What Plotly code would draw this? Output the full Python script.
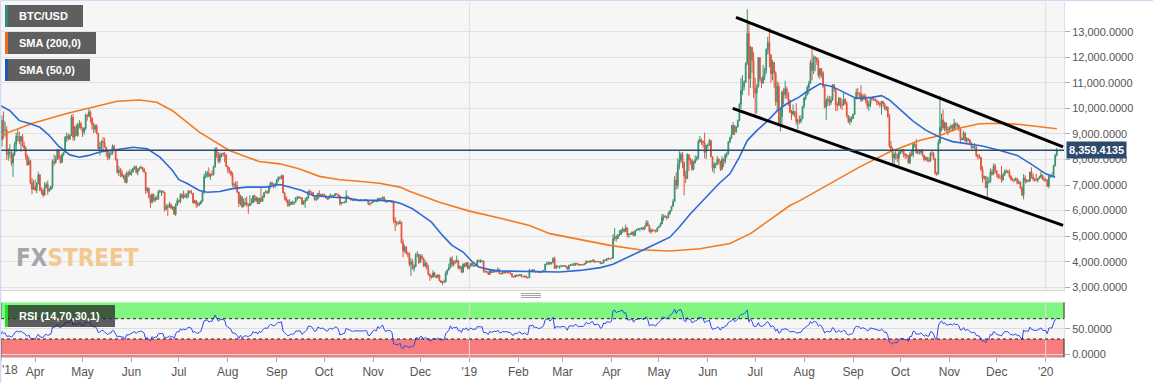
import numpy as np
import pandas as pd
import plotly.graph_objects as go

# ---------------- DATA ----------------
# closes before the first drawn candle (only used to warm up the RSI)
warmup_start = '2018-02-18'
warmup_closes = [10400, 11150, 11200, 10440, 9830, 10160, 9670, 9590, 10320, 10570,
                 10330, 10920, 11020, 11440, 11500, 11430, 10720, 9910]

month_starts = ['2018-03-08', '2018-04-01', '2018-05-01', '2018-06-01', '2018-07-01', '2018-08-01',
                '2018-09-01', '2018-10-01', '2018-11-01', '2018-12-01', '2019-01-01', '2019-02-01',
                '2019-03-01', '2019-04-01', '2019-05-01', '2019-06-01', '2019-07-01', '2019-08-01',
                '2019-09-01', '2019-10-01', '2019-11-01', '2019-12-01', '2020-01-01']

close_by_month = [
    [9300, 9230, 8770, 9530, 9140, 9150, 8200, 8260, 8270, 7860, 8200, 8600, 8900, 8900, 8710, 8900, 8550, 8450, 8150, 7790, 7950, 7100, 6840, 6930],
    [6800, 7050, 7400, 6800, 6780, 6610, 6900, 7020, 6770, 6830, 6940, 7920, 7880, 8000, 8360, 8060, 7890, 8170, 8280, 8860, 8920, 8800, 8940, 9650, 8870, 9280, 8940, 9350, 9400, 9240],
    [9070, 9220, 9740, 9700, 9860, 9620, 9370, 9190, 9310, 9020, 8420, 8480, 8700, 8680, 8480, 8340, 8060, 8240, 8240, 8520, 8400, 7990, 7500, 7580, 7470, 7350, 7360, 7110, 7470, 7410, 7500],
    [7530, 7640, 7720, 7500, 7630, 7660, 7690, 7620, 7510, 6780, 6880, 6550, 6310, 6640, 6400, 6490, 6450, 6720, 6750, 6760, 6720, 6050, 6160, 6140, 6240, 6090, 6140, 5860, 6210, 6390],
    [6360, 6620, 6510, 6600, 6530, 6600, 6760, 6710, 6670, 6300, 6390, 6250, 6220, 6270, 6360, 6740, 7320, 7380, 7470, 7330, 7410, 7400, 7720, 8400, 8170, 7940, 8180, 8230, 8220, 8180, 7730],
    [7620, 7540, 7420, 7010, 7030, 6940, 6720, 6280, 6540, 6150, 6240, 6320, 6260, 6200, 6270, 6310, 6580, 6400, 6490, 6270, 6480, 6360, 6530, 6700, 6740, 6700, 6910, 7080, 7040, 6980, 7030],
    [7200, 7300, 7270, 7370, 6700, 6520, 6410, 6200, 6240, 6320, 6290, 6330, 6490, 6490, 6520, 6500, 6250, 6340, 6390, 6490, 6760, 6720, 6710, 6590, 6430, 6460, 6680, 6640, 6600, 6630],
    [6590, 6510, 6460, 6560, 6600, 6560, 6590, 6660, 6640, 6580, 6270, 6310, 6320, 6340, 6550, 6490, 6480, 6430, 6400, 6420, 6420, 6410, 6400, 6420, 6400, 6410, 6420, 6410, 6270, 6270, 6320],
    [6370, 6390, 6360, 6480, 6430, 6470, 6530, 6420, 6340, 6370, 6380, 6360, 6320, 5620, 5550, 5510, 5500, 5550, 4750, 4420, 4570, 4320, 4310, 3900, 4000, 3740, 3820, 4260, 4280, 3970],
    [4210, 4140, 3840, 3940, 3750, 3500, 3420, 3400, 3560, 3450, 3390, 3480, 3250, 3200, 3190, 3210, 3540, 3680, 3770, 4130, 3890, 4020, 3990, 4050, 3760, 3800, 3600, 3900, 3820, 3960, 3740],
    [3840, 3940, 3840, 3860, 3840, 4040, 4000, 4010, 4030, 3630, 3630, 3600, 3500, 3670, 3580, 3610, 3650, 3610, 3700, 3540, 3530, 3590, 3560, 3580, 3570, 3570, 3530, 3420, 3400, 3470, 3440],
    [3470, 3500, 3410, 3410, 3440, 3380, 3370, 3660, 3650, 3690, 3610, 3620, 3600, 3580, 3590, 3620, 3660, 3900, 3930, 3970, 3910, 3970, 4120, 3740, 3830, 3810, 3820, 3820],
    [3830, 3840, 3800, 3710, 3860, 3870, 3880, 3860, 3940, 3920, 3870, 3890, 3880, 3880, 3930, 4020, 3990, 3990, 4030, 4060, 3990, 4000, 4010, 4000, 3930, 3950, 4070, 4050, 4120, 4110, 4110],
    [4140, 4900, 4980, 4910, 5050, 5060, 5200, 5280, 5190, 5330, 5060, 5080, 5080, 5160, 5030, 5220, 5250, 5290, 5290, 5330, 5280, 5380, 5520, 5420, 5180, 5240, 5230, 5230, 5190, 5320],
    [5380, 5480, 5740, 5780, 5750, 5720, 5870, 5990, 6170, 6350, 7200, 6990, 7800, 7980, 8200, 7880, 7350, 7260, 8190, 7980, 7950, 7620, 7880, 7990, 8060, 8690, 8770, 8720, 8660, 8270, 8550],
    [8550, 8740, 8110, 7680, 7800, 7800, 8000, 7930, 7630, 8010, 7920, 8170, 8230, 8690, 8850, 8980, 9330, 9080, 9270, 9530, 10160, 10700, 10850, 11010, 11760, 12930, 11160, 12390, 11880, 10770],
    [10590, 10840, 11980, 11150, 10990, 11250, 11480, 12300, 12580, 12100, 11350, 11800, 11390, 10260, 10860, 9430, 9680, 10640, 10530, 10770, 10590, 10320, 9850, 9770, 9880, 9850, 9480, 9530, 9500, 9590, 10080],
    [10400, 10530, 10820, 10980, 11790, 11480, 11960, 11980, 11860, 11300, 11550, 11390, 10870, 10050, 10300, 10360, 10220, 10320, 10920, 10760, 10130, 10130, 10400, 10140, 10130, 10370, 10190, 9720, 9490, 9600, 9600],
    [9760, 10390, 10620, 10580, 10580, 10320, 10490, 10400, 10310, 10100, 10160, 10420, 10360, 10360, 10310, 10260, 10190, 10160, 10270, 10180, 9990, 10030, 9690, 8530, 8430, 8060, 8200, 8200, 8050, 8300],
    [8320, 8380, 8230, 8150, 8150, 7870, 8210, 8180, 8590, 8590, 8270, 8300, 8280, 8370, 8160, 8000, 8080, 7960, 7950, 8230, 8220, 8030, 7470, 7440, 8660, 9260, 9550, 9230, 9430, 9170, 9150],
    [9250, 9310, 9200, 9410, 9320, 9340, 9200, 8770, 8810, 9040, 8720, 8810, 8760, 8640, 8470, 8500, 8500, 8170, 8120, 8080, 7620, 7280, 7330, 6900, 7130, 7150, 7520, 7430, 7750, 7560],
    [7420, 7300, 7300, 7200, 7390, 7540, 7500, 7520, 7340, 7220, 7200, 7190, 7250, 7070, 7110, 6880, 6610, 7280, 7150, 7190, 7150, 7510, 7320, 7250, 7200, 7200, 7250, 7300, 7390, 7220, 7190],
    [7200, 6960, 7340, 7350, 7350, 7760, 8160, 8359.4135],
]

high_by_month = [
    [10100, 9400, 9480, 9730, 9880, 9480, 9300, 8430, 8600, 8340, 8280, 8700, 9050, 9180, 9080, 8920, 9000, 8700, 8520, 8200, 8100, 7990, 7280, 7200],
    [7220, 7120, 7520, 7420, 6910, 6860, 7100, 7110, 7180, 6890, 6980, 8000, 8200, 8150, 8420, 8400, 8160, 8250, 8300, 8920, 9050, 9020, 8990, 9750, 9780, 9290, 9380, 9440, 9540, 9480],
    [9260, 9260, 9800, 9760, 9990, 9920, 9650, 9440, 9380, 9380, 9040, 8680, 8750, 8880, 8850, 8500, 8400, 8280, 8390, 8590, 8570, 8410, 8050, 7750, 7670, 7600, 7400, 7440, 7540, 7560, 7620],
    [7600, 7690, 7760, 7760, 7650, 7710, 7760, 7700, 7680, 7510, 6910, 6890, 6620, 6680, 6660, 6550, 6590, 6800, 6830, 6790, 6790, 6730, 6250, 6250, 6340, 6290, 6190, 6160, 6290, 6500],
    [6440, 6680, 6680, 6780, 6690, 6680, 6800, 6790, 6800, 6690, 6420, 6410, 6350, 6330, 6400, 6770, 7450, 7550, 7560, 7690, 7460, 7570, 7760, 8480, 8490, 8300, 8270, 8250, 8280, 8290, 8200],
    [7760, 7700, 7560, 7500, 7090, 7160, 7150, 6740, 6630, 6570, 6470, 6500, 6550, 6270, 6600, 6480, 6600, 6620, 6560, 6530, 6500, 6880, 6580, 6720, 6810, 6780, 6920, 7130, 7140, 7060, 7100],
    [7240, 7340, 7340, 7410, 7400, 6730, 6550, 6430, 6450, 6370, 6390, 6350, 6530, 6580, 6570, 6540, 6530, 6400, 6500, 6540, 6780, 6830, 6750, 6730, 6600, 6560, 6690, 6790, 6650, 6660],
    [6670, 6610, 6530, 6590, 6670, 6600, 6620, 6690, 6670, 6640, 6590, 6350, 6340, 6370, 6800, 6600, 6510, 6500, 6440, 6440, 6480, 6430, 6420, 6450, 6420, 6440, 6440, 6430, 6420, 6290, 6340],
    [6400, 6420, 6400, 6500, 6490, 6490, 6560, 6540, 6430, 6400, 6410, 6400, 6380, 6350, 5750, 5600, 5570, 5640, 5560, 4880, 4660, 4610, 4400, 4370, 4140, 4100, 3900, 4340, 4410, 4320],
    [4290, 4300, 4160, 4080, 3980, 3880, 3550, 3480, 3660, 3600, 3480, 3520, 3490, 3280, 3250, 3300, 3630, 3700, 3930, 4180, 4230, 4040, 4080, 4240, 4050, 3860, 3830, 3940, 3950, 3980, 3990],
    [3850, 3970, 3950, 3880, 3900, 4090, 4090, 4100, 4060, 4040, 3680, 3640, 3610, 3700, 3690, 3670, 3670, 3660, 3780, 3730, 3570, 3620, 3630, 3600, 3600, 3650, 3580, 3540, 3440, 3490, 3510],
    [3490, 3520, 3500, 3440, 3460, 3450, 3400, 3730, 3680, 3700, 3690, 3640, 3640, 3610, 3640, 3650, 3680, 3920, 4000, 4000, 4000, 3990, 4180, 4200, 3880, 3850, 3840, 3880],
    [3870, 3860, 3850, 3820, 3880, 3910, 3940, 3940, 3960, 3950, 3920, 3910, 3910, 3920, 3950, 4050, 4030, 4050, 4050, 4080, 4090, 4030, 4030, 4030, 4010, 3970, 4090, 4080, 4130, 4170, 4130],
    [4160, 5080, 5320, 5040, 5080, 5240, 5270, 5350, 5290, 5450, 5340, 5120, 5130, 5190, 5180, 5240, 5290, 5320, 5320, 5350, 5340, 5420, 5620, 5620, 5440, 5310, 5260, 5260, 5240, 5340],
    [5410, 5540, 5880, 5850, 5830, 5800, 5960, 6020, 6180, 6450, 7350, 7500, 8050, 8320, 8280, 8290, 7920, 7560, 8250, 8150, 8070, 8030, 7950, 8160, 8140, 8780, 8920, 8820, 8720, 9050, 8580],
    [8620, 8810, 8750, 8120, 7900, 7880, 8140, 8060, 7950, 8130, 8050, 8230, 8300, 8700, 8880, 9350, 9460, 9350, 9300, 9560, 10200, 11200, 11300, 11100, 11800, 13880, 13300, 12450, 12400, 12200],
    [11200, 10950, 12000, 12000, 11200, 11700, 11600, 12350, 12800, 13150, 12100, 11900, 11800, 11450, 11050, 11000, 9990, 10700, 10780, 11080, 10850, 10650, 10330, 9940, 10150, 9890, 10200, 9600, 9720, 9730, 10100],
    [10450, 10650, 10900, 11080, 11900, 12330, 12080, 12050, 12000, 11950, 11580, 11580, 11450, 10890, 10400, 10500, 10470, 10480, 10950, 10950, 10780, 10250, 10450, 10420, 10340, 10590, 10370, 10280, 9740, 9690, 9680],
    [9800, 10440, 10770, 10800, 10630, 10900, 10550, 10590, 10540, 10380, 10290, 10450, 10440, 10420, 10380, 10350, 10280, 10260, 10300, 10300, 10220, 10100, 10080, 9780, 8730, 8470, 8280, 8340, 8230, 8330],
    [8390, 8400, 8400, 8240, 8220, 8170, 8300, 8340, 8650, 8640, 8800, 8390, 8400, 8390, 8400, 8180, 8120, 8100, 8080, 8290, 8330, 8300, 8060, 7520, 8780, 10500, 9800, 9950, 9480, 9450, 9300],
    [9290, 9380, 9380, 9590, 9460, 9440, 9370, 9230, 8860, 9130, 9060, 8880, 8840, 8780, 8680, 8530, 8640, 8520, 8200, 8210, 8100, 7730, 7370, 7360, 7330, 7320, 7650, 7620, 7850, 7830],
    [7570, 7430, 7420, 7750, 7480, 7600, 7620, 7580, 7620, 7390, 7280, 7250, 7300, 7280, 7200, 7140, 6950, 7430, 7380, 7230, 7190, 7520, 7690, 7440, 7270, 7440, 7280, 7360, 7520, 7410, 7330],
    [7260, 7210, 7400, 7400, 7500, 7800, 8220, 8450],
]

low_by_month = [
    [9100, 8400, 8680, 8500, 8800, 8900, 7990, 7950, 8060, 7750, 7320, 8130, 8300, 8700, 8600, 8300, 8500, 8370, 8000, 7750, 7780, 7030, 6640, 6820],
    [6770, 6680, 7020, 6750, 6630, 6520, 6580, 6880, 6620, 6730, 6810, 6860, 7760, 7830, 8000, 8000, 7830, 7860, 8130, 8280, 8680, 8740, 8780, 8930, 8740, 8730, 8920, 8890, 9210, 9160],
    [8880, 8970, 9150, 9520, 9660, 9450, 9170, 9040, 9060, 8980, 8400, 8160, 8380, 8320, 8460, 8120, 7970, 8000, 8150, 8190, 8320, 7960, 7440, 7350, 7310, 7300, 7220, 7080, 7060, 7320, 7370],
    [7370, 7470, 7600, 7450, 7380, 7560, 7640, 7540, 7480, 6650, 6700, 6470, 6120, 6290, 6360, 6330, 6410, 6420, 6700, 6570, 6680, 5960, 6020, 5790, 6100, 6070, 6020, 5840, 5790, 6190],
    [6280, 6290, 6490, 6450, 6510, 6460, 6490, 6680, 6640, 6290, 6280, 6110, 6140, 6190, 6250, 6340, 6650, 7270, 7290, 7320, 7200, 7360, 7380, 7670, 8060, 7850, 7860, 8080, 8100, 7890, 7700],
    [7460, 7450, 7340, 6930, 6890, 6830, 6680, 6140, 6200, 6100, 6140, 6210, 6150, 5880, 6170, 6240, 6300, 6330, 6330, 6260, 6270, 6340, 6360, 6490, 6690, 6640, 6680, 6860, 6980, 6870, 6900],
    [7000, 7120, 7210, 7230, 6680, 6400, 6310, 6150, 6150, 6220, 6220, 6220, 6310, 6400, 6460, 6460, 6240, 6220, 6110, 6380, 6460, 6680, 6660, 6550, 6390, 6370, 6430, 6520, 6530, 6550],
    [6540, 6470, 6420, 6440, 6540, 6520, 6530, 6570, 6610, 6530, 6200, 6230, 6290, 6280, 6300, 6450, 6440, 6380, 6370, 6390, 6400, 6380, 6360, 6390, 6380, 6380, 6390, 6380, 6210, 6200, 6260],
    [6310, 6350, 6330, 6350, 6380, 6400, 6440, 6380, 6300, 6330, 6350, 6330, 6300, 5500, 5200, 5400, 5440, 5470, 4710, 4180, 4360, 4290, 4170, 3820, 3450, 3690, 3620, 3780, 4180, 3910],
    [3950, 4070, 3790, 3780, 3700, 3460, 3250, 3340, 3370, 3400, 3340, 3380, 3240, 3170, 3080, 3180, 3200, 3480, 3650, 3740, 3800, 3810, 3900, 3960, 3700, 3700, 3560, 3550, 3770, 3810, 3700],
    [3700, 3800, 3820, 3790, 3830, 3810, 3980, 3950, 3990, 3570, 3560, 3570, 3480, 3500, 3560, 3570, 3580, 3590, 3600, 3510, 3490, 3510, 3540, 3550, 3550, 3550, 3500, 3380, 3380, 3390, 3430],
    [3420, 3450, 3400, 3390, 3410, 3360, 3350, 3360, 3610, 3630, 3590, 3570, 3580, 3560, 3570, 3580, 3610, 3650, 3860, 3870, 3880, 3900, 3960, 3720, 3730, 3780, 3720, 3780],
    [3810, 3800, 3780, 3700, 3700, 3840, 3850, 3840, 3850, 3880, 3840, 3850, 3860, 3860, 3870, 3920, 3960, 3960, 3970, 4010, 3960, 3980, 3990, 3970, 3900, 3910, 3940, 4020, 4040, 4090, 4090],
    [4110, 4140, 4820, 4780, 4880, 4990, 5050, 5130, 5140, 5160, 4960, 4930, 5050, 5030, 4990, 5020, 5200, 5240, 5190, 5260, 5220, 5250, 5370, 5390, 5140, 5090, 5170, 5180, 5130, 5170],
    [5320, 5370, 5470, 5600, 5710, 5640, 5710, 5850, 5980, 6140, 6350, 6820, 6860, 7610, 7870, 7660, 6600, 7080, 7230, 7550, 7800, 7560, 7580, 7840, 7950, 8020, 8650, 8560, 8470, 8050, 8020],
    [8420, 8520, 8080, 7530, 7460, 7660, 7780, 7810, 7550, 7570, 7700, 7830, 8060, 8180, 8640, 8800, 8960, 8950, 9050, 9260, 9500, 9980, 10530, 10700, 11000, 11700, 10500, 10800, 11400, 10400],
    [9700, 9800, 10820, 11050, 10800, 10960, 11100, 11350, 12100, 11600, 11000, 11100, 10800, 10100, 9900, 9380, 9100, 9300, 10150, 10380, 10380, 10100, 9820, 9550, 9720, 9650, 9360, 9190, 9380, 9420, 9600],
    [10000, 10320, 10510, 10570, 10970, 11100, 11340, 11450, 11700, 11200, 11150, 11210, 10800, 10000, 9550, 10100, 10080, 10130, 10300, 10650, 9900, 9900, 10080, 10000, 9930, 10100, 10150, 9630, 9420, 9350, 9450],
    [9570, 9760, 10380, 10390, 10400, 10240, 10280, 10330, 10200, 9990, 9900, 10050, 10300, 10300, 10270, 10110, 10120, 10030, 9750, 10050, 9930, 9900, 9630, 8450, 8350, 7850, 7800, 8000, 7900, 7770],
    [8200, 8220, 8080, 8020, 8050, 7840, 7820, 8120, 8080, 8470, 8220, 8200, 8190, 8200, 8110, 7930, 7960, 7900, 7890, 7910, 8140, 7970, 7400, 7350, 7400, 8610, 9100, 9160, 9100, 9060, 8950],
    [9080, 9140, 9100, 9140, 9200, 9230, 9110, 8690, 8750, 8760, 8700, 8600, 8700, 8570, 8410, 8430, 8400, 8090, 8000, 8030, 7540, 7090, 7200, 6870, 6530, 7050, 7080, 7360, 7390, 7470],
    [7300, 7230, 7260, 7090, 7170, 7360, 7480, 7450, 7280, 7170, 7150, 7100, 7190, 7030, 7030, 6850, 6560, 6440, 7060, 7080, 7120, 7130, 7260, 7150, 7130, 7150, 7100, 7240, 7290, 7200, 7130],
    [7150, 6920, 6870, 7280, 7300, 7350, 7730, 8120],
]

# moving averages
sma200_dates = ['2018-03-10', '2018-03-30', '2018-04-21', '2018-05-12', '2018-05-23', '2018-06-06',
                '2018-06-17', '2018-06-27', '2018-07-06', '2018-07-14', '2018-08-02', '2018-08-21',
                '2018-09-03', '2018-09-15', '2018-09-28', '2018-10-11', '2018-10-23', '2018-11-05',
                '2018-11-18', '2018-11-24', '2018-12-13', '2019-01-01', '2019-01-20', '2019-02-08',
                '2019-02-21', '2019-03-12', '2019-03-25', '2019-03-31', '2019-04-19', '2019-05-08',
                '2019-05-27', '2019-06-15', '2019-06-28', '2019-07-10', '2019-07-23', '2019-07-29',
                '2019-08-17', '2019-09-05', '2019-09-24', '2019-10-13', '2019-10-26', '2019-11-07',
                '2019-11-20', '2019-12-03', '2019-12-16', '2019-12-29', '2020-01-08']
sma200_values = [8940, 9410, 9800, 10110, 10280, 10330, 10240, 9910, 9460, 9070, 8350, 7920,
                 7830, 7640, 7340, 7210, 7150, 7070, 6920, 6760, 6330, 5980, 5710, 5420,
                 5100, 4880, 4710, 4640, 4470, 4420, 4510, 4710, 5100, 5620, 6200, 6380,
                 7050, 7700, 8290, 8740, 8940, 9220, 9400, 9420, 9370, 9290, 9200]

sma50_dates = ['2018-03-10', '2018-03-16', '2018-03-22', '2018-03-28', '2018-04-04', '2018-04-10',
               '2018-04-16', '2018-04-23', '2018-04-29', '2018-05-05', '2018-05-12', '2018-05-18',
               '2018-05-25', '2018-06-02', '2018-06-11', '2018-06-19', '2018-06-27', '2018-07-01',
               '2018-07-06', '2018-07-10', '2018-07-14', '2018-07-19', '2018-07-27', '2018-08-04',
               '2018-08-13', '2018-08-25', '2018-09-03', '2018-09-09', '2018-09-17', '2018-09-24',
               '2018-10-04', '2018-10-15', '2018-10-23', '2018-11-05', '2018-11-13', '2018-11-19',
               '2018-11-26', '2018-12-02', '2018-12-08', '2018-12-15', '2018-12-21', '2018-12-28',
               '2019-01-03', '2019-01-07', '2019-01-14', '2019-01-20', '2019-02-02', '2019-02-14',
               '2019-02-27', '2019-03-12', '2019-03-25', '2019-04-02', '2019-04-13', '2019-04-25',
               '2019-05-08', '2019-05-14', '2019-05-21', '2019-05-27', '2019-06-02', '2019-06-08',
               '2019-06-15', '2019-06-21', '2019-06-26', '2019-07-02', '2019-07-09', '2019-07-15',
               '2019-07-21', '2019-07-29', '2019-08-02', '2019-08-11', '2019-08-19', '2019-08-28',
               '2019-09-03', '2019-09-13', '2019-09-19', '2019-09-24', '2019-09-30', '2019-10-09',
               '2019-10-17', '2019-10-26', '2019-11-03', '2019-11-12', '2019-11-22', '2019-12-03',
               '2019-12-14', '2019-12-24', '2020-01-01', '2020-01-07']
sma50_values = [10110, 9910, 9520, 9420, 9260, 8940, 8510, 8180, 8090, 8160, 8290, 8350,
                8420, 8480, 8420, 8090, 7570, 7210, 7070, 6920, 6790, 6720, 6750, 6860,
                6920, 6920, 7020, 6920, 6790, 6590, 6530, 6500, 6400, 6400, 6370, 6270,
                6070, 5810, 5550, 5030, 4640, 4380, 3990, 3790, 3690, 3640, 3625, 3610,
                3600, 3660, 3770, 3900, 4210, 4580, 4960, 5360, 5880, 6270, 6660, 7050,
                7440, 8090, 8740, 9130, 9520, 9910, 10180, 10450, 10630, 10960, 10850, 10570,
                10390, 10430, 10500, 10330, 10000, 9500, 9150, 8870, 8700, 8620, 8530, 8350,
                8160, 7770, 7440, 7310]

channel_upper_dates = ['2019-06-18 21:00', '2020-01-12 00:00']
channel_upper_prices = [13560, 8490]
channel_lower_dates = ['2019-06-16 19:00', '2020-01-12 00:00']
channel_lower_prices = [10000, 5420]

last_price = 8359.4135
rsi_period = 14
rsi_upper, rsi_lower = 70, 30

# first tick sits on the left edge; its label is drawn separately so it stays readable
first_tick_date, first_tick_label = '2018-03-10 12:00', "'18"
x_tick_dates = ['2018-04-01', '2018-05-01', '2018-06-01', '2018-07-01', '2018-08-01',
                '2018-09-01', '2018-10-01', '2018-11-01', '2018-12-01', '2019-01-01', '2019-02-01',
                '2019-03-01', '2019-04-01', '2019-05-01', '2019-06-01', '2019-07-01', '2019-08-01',
                '2019-09-01', '2019-10-01', '2019-11-01', '2019-12-01', '2020-01-01']
x_tick_labels = ['Apr', 'May', 'Jun', 'Jul', 'Aug', 'Sep', 'Oct', 'Nov', 'Dec', "'19", 'Feb',
                 'Mar', 'Apr', 'May', 'Jun', 'Jul', 'Aug', 'Sep', 'Oct', 'Nov', 'Dec', "'20"]
year_lines = ['2019-01-01', '2020-01-01']
price_ticks = [3000, 4000, 5000, 6000, 7000, 8000, 9000, 10000, 11000, 12000, 13000]
rsi_ticks = [0, 50]

# ---------------- BUILD SERIES ----------------
dates, close, high, low = [], [], [], []
for ms, c, h, l in zip(month_starts, close_by_month, high_by_month, low_by_month):
    dates.extend(pd.date_range(ms, periods=len(c), freq='D'))
    close.extend(c); high.extend(h); low.extend(l)
close = np.array(close, float)
opn = np.concatenate([[warmup_closes[-1]], close[:-1]])
high = np.maximum.reduce([np.array(high, float), opn, close])
low = np.minimum.reduce([np.array(low, float), opn, close])

all_close = np.array(list(warmup_closes) + list(close), float)
delta = np.diff(all_close)
gain = np.clip(delta, 0, None)
loss = np.clip(-delta, 0, None)
rsi = np.full(len(all_close), np.nan)
ag = gain[:rsi_period].mean()
al = loss[:rsi_period].mean()
rsi[rsi_period] = 100 - 100 / (1 + ag / al)
for i in range(rsi_period, len(delta)):
    ag = (ag * (rsi_period - 1) + gain[i]) / rsi_period
    al = (al * (rsi_period - 1) + loss[i]) / rsi_period
    rsi[i + 1] = 100.0 if al == 0 else 100 - 100 / (1 + ag / al)
rsi_c = rsi[len(warmup_closes):]

# ---------------- LAYOUT GEOMETRY ----------------
W, H = 1153, 383
ML, MR, MT, MB = 1, 89, 2, 26
PW, PH = W - ML - MR, H - MT - MB


def px_x(px):
    return (px - ML) / PW


def px_y(py):
    return (H - MB - py) / PH


price_dom = [px_y(290), 1.0]
rsi_dom = [0.0, px_y(302.3)]
x_range = ['2018-03-10 09:00', '2020-01-12 14:00']
price_range = [2894, 14162]
rsi_range = [-5.5, 102.3]

FONT = 'Liberation Sans, Arial, Helvetica, sans-serif'
UP, DOWN = '#3a9270', '#e0553f'
ORANGE, BLUE = '#f47a1f', '#2d6bd4'
NAVY = '#2d4a6d'

fig = go.Figure()
fig.add_trace(go.Candlestick(
    x=dates, open=opn, high=high, low=low, close=close, xaxis='x', yaxis='y',
    increasing=dict(line=dict(color=UP, width=1), fillcolor=UP),
    decreasing=dict(line=dict(color=DOWN, width=1), fillcolor=DOWN),
    whiskerwidth=0, showlegend=False, hoverinfo='skip'))
fig.add_trace(go.Scatter(x=sma200_dates, y=sma200_values, mode='lines', xaxis='x', yaxis='y',
                         line=dict(color=ORANGE, width=1.6), showlegend=False, hoverinfo='skip'))
fig.add_trace(go.Scatter(x=sma50_dates, y=sma50_values, mode='lines', xaxis='x', yaxis='y',
                         line=dict(color=BLUE, width=1.6), showlegend=False, hoverinfo='skip'))
for d, p in ((channel_upper_dates, channel_upper_prices), (channel_lower_dates, channel_lower_prices)):
    fig.add_trace(go.Scatter(x=d, y=p, mode='lines', xaxis='x', yaxis='y',
                             line=dict(color='black', width=3), showlegend=False, hoverinfo='skip'))
fig.add_trace(go.Scatter(x=dates, y=rsi_c, mode='lines', xaxis='x2', yaxis='y2',
                         line=dict(color='#2c4bea', width=1), showlegend=False, hoverinfo='skip'))

shapes = []
# RSI zones
shapes.append(dict(type='rect', xref='x2 domain', yref='y2', x0=0, x1=1, y0=rsi_upper, y1=rsi_range[1],
                   fillcolor='#80f780', line=dict(width=0), layer='below'))
shapes.append(dict(type='rect', xref='x2 domain', yref='y2', x0=0, x1=1, y0=rsi_range[0], y1=rsi_lower,
                   fillcolor='#f87c7c', line=dict(width=0), layer='below'))
for lvl in (rsi_upper, rsi_lower):
    shapes.append(dict(type='line', xref='x2 domain', yref='y2', x0=0, x1=1, y0=lvl, y1=lvl,
                       line=dict(color='#222', width=1, dash='dot')))
for xe in (0, 1):
    for y0, y1 in ((rsi_range[0], rsi_lower), (rsi_upper, rsi_range[1])):
        shapes.append(dict(type='line', xref='x2 domain', yref='y2', x0=xe, x1=xe, y0=y0, y1=y1,
                           line=dict(color='#333', width=1)))
# year separators
for yd in year_lines:
    for yr in ('y domain', 'y2 domain'):
        shapes.append(dict(type='line', xref='x', yref=yr, x0=yd, x1=yd, y0=0, y1=1,
                           line=dict(color='#dedede', width=1), layer='below'))
# last price line
shapes.append(dict(type='line', xref='x domain', yref='y', x0=0, x1=1, y0=last_price, y1=last_price,
                   line=dict(color=NAVY, width=1.5)))
# page borders
shapes.append(dict(type='line', xref='paper', yref='paper', x0=px_x(0), x1=px_x(W), y0=px_y(0.5), y1=px_y(0.5),
                   line=dict(color='#d3daf0', width=1.5)))
shapes.append(dict(type='line', xref='paper', yref='paper', x0=px_x(0.5), x1=px_x(0.5), y0=px_y(H), y1=px_y(0),
                   line=dict(color='#d3daf0', width=1.5)))
# tick mark for the first (edge) tick
shapes.append(dict(type='line', xref='x', yref='paper', x0=first_tick_date, x1=first_tick_date,
                   y0=px_y(357), y1=px_y(361), line=dict(color='#aaa', width=1)))
# panel divider handle
for hy in (293.5, 295.5, 297.5):
    shapes.append(dict(type='line', xref='paper', yref='paper', x0=px_x(521), x1=px_x(541), y0=px_y(hy), y1=px_y(hy),
                       line=dict(color='#8a8a8a', width=0.8)))

# legend boxes
legend_items = [('BTC/USD', '#2e8b74', 5, 83, 5, 27),
                ('SMA (200,0)', '#f26b1d', 5, 96, 32, 54),
                ('SMA (50,0)', '#1f56b0', 5, 90, 59, 81)]
annotations = []
for txt, col, x0, x1, y0, y1 in legend_items:
    shapes.append(dict(type='rect', xref='paper', yref='paper', x0=px_x(x0), x1=px_x(x1), y0=px_y(y1), y1=px_y(y0),
                       fillcolor='#5f5f5f', line=dict(width=0)))
    shapes.append(dict(type='rect', xref='paper', yref='paper', x0=px_x(x0), x1=px_x(x0 + 3), y0=px_y(y1), y1=px_y(y0),
                       fillcolor=col, line=dict(width=0)))
    annotations.append(dict(text=txt, xref='paper', yref='paper', x=px_x(17), y=px_y((y0 + y1) / 2),
                            xanchor='left', yanchor='middle', showarrow=False,
                            font=dict(family=FONT, size=11, color='white', weight='bold')))
# RSI label box
shapes.append(dict(type='rect', xref='paper', yref='paper', x0=px_x(5), x1=px_x(115), y0=px_y(327), y1=px_y(305),
                   fillcolor='rgba(38,38,38,0.74)', line=dict(width=0)))
shapes.append(dict(type='rect', xref='paper', yref='paper', x0=px_x(5), x1=px_x(8), y0=px_y(327), y1=px_y(305),
                   fillcolor='#1fe01f', line=dict(width=0)))
annotations.append(dict(text='RSI (14,70,30,1)', xref='paper', yref='paper', x=px_x(17), y=px_y(316),
                        xanchor='left', yanchor='middle', showarrow=False,
                        font=dict(family=FONT, size=11, color='white', weight='bold')))
# first x label at the left edge
annotations.append(dict(text=first_tick_label, xref='paper', yref='paper', x=px_x(0), y=px_y(370),
                        xanchor='left', yanchor='middle', showarrow=False,
                        font=dict(family=FONT, size=12, color='#555')))
# last price tag
annotations.append(dict(text=f'{last_price:,.4f}', xref='paper', yref='y', x=px_x(1066), y=last_price,
                        xanchor='left', yanchor='middle', showarrow=False, bgcolor=NAVY, borderpad=2,
                        font=dict(family=FONT, size=11, color='white', weight='bold')))
# watermark
annotations.append(dict(text="<span style='color:#a3a6ad'>FX</span><span style='color:#f3c88e'>STREET</span>",
                        xref='paper', yref='paper', x=px_x(14), y=px_y(258), xanchor='left', yanchor='middle',
                        showarrow=False,
                        font=dict(family='Liberation Sans Narrow, DejaVu Sans Condensed, Liberation Sans, sans-serif',
                                  size=24, weight='bold')))

axis_font = dict(family=FONT, size=11, color='#555')
fig.update_layout(
    width=W, height=H, margin=dict(l=ML, r=MR, t=MT, b=MB, autoexpand=False),
    paper_bgcolor='white', plot_bgcolor='#f6f6f6', hovermode=False, showlegend=False,
    xaxis=dict(domain=[0, 1], anchor='y', range=x_range, type='date', showticklabels=False,
               showgrid=False, zeroline=False, rangeslider=dict(visible=False), automargin=False,
               showline=True, linecolor='#d6d6d6', linewidth=1),
    yaxis=dict(domain=price_dom, anchor='x', side='right', range=price_range, tickvals=price_ticks,
               tickformat=',.4f', ticks='outside', ticklen=5, tickcolor='#aaa', tickfont=axis_font,
               automargin=False,
               gridcolor='#e2e2e2', zeroline=False, showline=True, linecolor='#dde1ec'),
    xaxis2=dict(domain=[0, 1], anchor='y2', range=x_range, type='date', matches='x',
                tickvals=x_tick_dates, ticktext=x_tick_labels, ticks='outside', ticklen=4,
                tickcolor='#aaa', tickfont=dict(family=FONT, size=12, color='#555'),
                automargin=False,
                showgrid=False, zeroline=False, showline=True, linecolor='#cfcfcf'),
    yaxis2=dict(domain=rsi_dom, anchor='x2', side='right', range=rsi_range, tickvals=rsi_ticks,
                tickformat='.4f', ticks='outside', ticklen=5, tickcolor='#aaa', tickfont=axis_font,
                automargin=False,
                gridcolor='#dcdcdc', zeroline=False, showline=True, linecolor='#dde1ec'),
    shapes=shapes, annotations=annotations,
)

fig.write_html("out.html", config={'displayModeBar': False},
               post_script="document.body.style.margin='0';document.body.style.overflow='hidden';")
